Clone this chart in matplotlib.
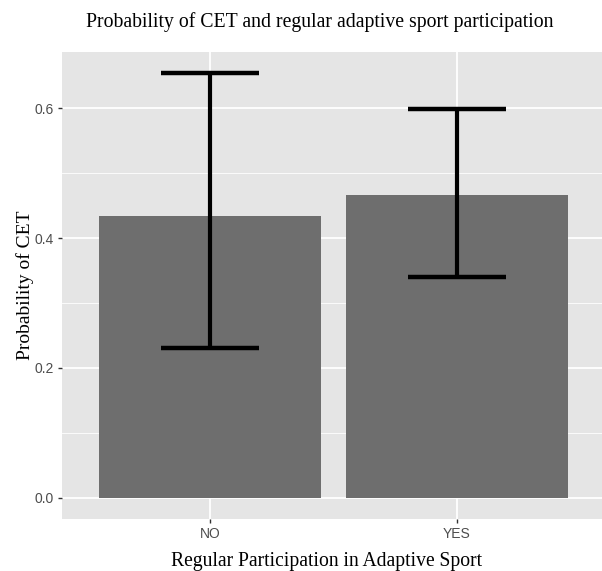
import matplotlib.pyplot as plt

groups = ['NO', 'YES']
prob = [0.434, 0.467]
lower = [0.231, 0.340]
upper = [0.655, 0.599]

W, H = 602, 571
fig = plt.figure(figsize=(W / 100, H / 100), dpi=100)
# panel runs past the right edge of the image in the reference
ax = fig.add_axes([62 / W, 1 - 519 / H, (605 - 62) / W, (519 - 52) / H])

ax.set_facecolor('#e5e5e5')
x = [1, 2]
ax.bar(x, prob, width=0.9, color='#6e6e6e', zorder=2)
err = [[p - l for p, l in zip(prob, lower)], [u - p for p, u in zip(prob, upper)]]
ax.errorbar(x, prob, yerr=err, fmt='none', ecolor='black', elinewidth=3.0,
            capsize=35, capthick=3.2, zorder=3)

ax.set_xlim(0.4, 2.6)
ax.set_ylim(-0.0328, 0.687)
ax.set_xticks(x)
ax.set_xticklabels(groups)
ax.set_yticks([0.0, 0.2, 0.4, 0.6])
ax.set_yticklabels(['0.0', '0.2', '0.4', '0.6'])
ax.set_yticks([0.1, 0.3, 0.5], minor=True)
ax.set_xticks([1.5], minor=True)
ax.grid(True, which='major', color='white', linewidth=1.3, zorder=0)
ax.grid(True, which='minor', axis='y', color='white', linewidth=0.6, zorder=0)
ax.set_axisbelow(True)
for s in ax.spines.values():
    s.set_visible(False)
ax.tick_params(which='major', length=3, width=1, color='#333333', labelcolor='#4d4d4d',
               labelsize=10, pad=3)
ax.tick_params(which='minor', length=0)
for lab in ax.get_xticklabels() + ax.get_yticklabels():
    lab.set_fontfamily('Liberation Sans')

ax.set_xlabel('Regular Participation in Adaptive Sport', fontsize=14.1,
              fontfamily='Liberation Serif', labelpad=8)
ax.xaxis.label.set_x((327 - 62) / (605 - 62))
ax.set_ylabel('Probability of CET', fontsize=14, fontfamily='Liberation Serif', labelpad=0)
fig.text(320 / W, 1 - 22 / H, 'Probability of CET and regular adaptive sport participation',
         ha='center', va='center', fontsize=14.2, fontfamily='Liberation Serif')

plt.savefig('out.png')
